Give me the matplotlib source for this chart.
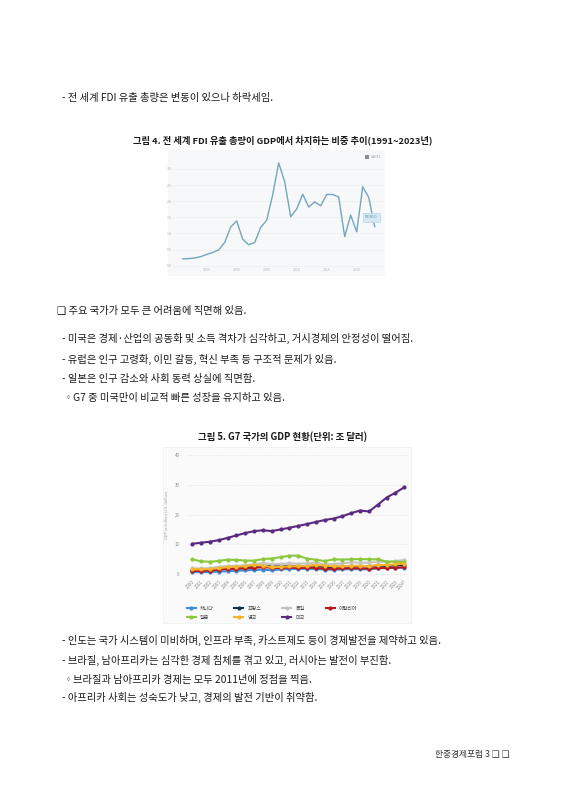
import numpy as np
import matplotlib.pyplot as plt
from matplotlib.patches import Rectangle

plt.rcParams['font.family'] = ['Noto Sans CJK KR', 'DejaVu Sans']

W, H = 566, 800

# figure 4: world FDI outflow share of GDP (%)
fdi_years = list(range(1991, 2024))
fdi_share = [0.21, 0.22, 0.24, 0.28, 0.35, 0.41, 0.49, 0.72, 1.20, 1.39,
             0.82, 0.65, 0.72, 1.19, 1.41, 2.20, 3.19, 2.60, 1.52, 1.76,
             2.22, 1.82, 1.98, 1.86, 2.21, 2.21, 2.13, 0.90, 1.57, 1.05,
             2.45, 2.12, 1.21]
fdi_yticks = [0.0, 0.5, 1.0, 1.5, 2.0, 2.5, 3.0]
fdi_xticks = [1995, 2000, 2005, 2010, 2015, 2020]

# figure 5: G7 GDP (trillion USD)
gdp_years = list(range(2000, 2025))
gdp_labels = [str(y) for y in gdp_years[:-1]] + ['2024*']
gdp = {
    '캐나다': [0.74, 0.74, 0.76, 0.90, 1.03, 1.17, 1.32, 1.47, 1.55, 1.37,
             1.62, 1.79, 1.83, 1.85, 1.81, 1.56, 1.53, 1.65, 1.73, 1.74,
             1.65, 2.00, 2.16, 2.14, 2.24],
    '프랑스': [1.36, 1.38, 1.49, 1.84, 2.12, 2.20, 2.32, 2.66, 2.92, 2.69,
             2.64, 2.86, 2.68, 2.81, 2.86, 2.44, 2.47, 2.59, 2.79, 2.73,
             2.65, 2.96, 2.78, 3.03, 3.16],
    '독일': [1.95, 1.95, 2.08, 2.50, 2.81, 2.85, 3.00, 3.43, 3.75, 3.41,
            3.40, 3.74, 3.53, 3.73, 3.89, 3.36, 3.47, 3.69, 3.98, 3.89,
            3.89, 4.28, 4.08, 4.46, 4.71],
    '이탈리아': [1.14, 1.17, 1.27, 1.57, 1.80, 1.86, 1.95, 2.21, 2.41, 2.20,
              2.14, 2.29, 2.09, 2.14, 2.16, 1.84, 1.88, 1.96, 2.09, 2.01,
              1.90, 2.18, 2.07, 2.25, 2.37],
    '일본': [4.97, 4.37, 4.18, 4.52, 4.89, 4.83, 4.60, 4.58, 5.11, 5.29,
            5.76, 6.23, 6.27, 5.21, 4.90, 4.44, 5.00, 4.93, 5.04, 5.12,
            5.04, 5.03, 4.26, 4.21, 4.10],
    '영국': [1.66, 1.64, 1.78, 2.05, 2.42, 2.54, 2.71, 3.09, 2.93, 2.41,
            2.49, 2.66, 2.71, 2.79, 3.07, 2.93, 2.69, 2.68, 2.87, 2.85,
            2.70, 3.14, 3.09, 3.34, 3.59],
    '미국': [10.25, 10.58, 10.94, 11.46, 12.21, 13.04, 13.82, 14.47, 14.77, 14.48,
            15.05, 15.60, 16.25, 16.84, 17.55, 18.21, 18.70, 19.48, 20.53, 21.38,
            21.06, 23.32, 25.74, 27.36, 29.17],
}
gdp_colors = {'캐나다': '#3d8fdb', '프랑스': '#14324a', '독일': '#c4c4c4',
              '이탈리아': '#b3191e', '일본': '#8cc83c', '영국': '#f6b52c',
              '미국': '#5b2a80'}
gdp_yticks = [0, 10, 20, 30, 40]

fig = plt.figure(figsize=(W / 100, H / 100), dpi=100)
fig.patch.set_facecolor('white')


def px_axes(left, top, right, bottom):
    return fig.add_axes([left / W, 1 - bottom / H, (right - left) / W, (bottom - top) / H])


def lims(p0, v0, p1, v1, a, b):
    # value at pixel a and b given two reference pixel/value pairs
    k = (v1 - v0) / (p1 - p0)
    return v0 + (a - p0) * k, v0 + (b - p0) * k


def ftext(x, y, s, **kw):
    kw.setdefault('fontsize', 7.4)
    kw.setdefault('color', '#1a1a1a')
    kw.setdefault('va', 'center')
    fig.text(x / W, 1 - y / H, s, **kw)


def panel(left, top, right, bottom, fc, ec='none'):
    fig.add_artist(Rectangle((left / W, 1 - bottom / H), (right - left) / W, (bottom - top) / H,
                             transform=fig.transFigure, facecolor=fc, edgecolor=ec,
                             lw=0.5, zorder=-10))


ftext(62, 98, '- 전 세계 FDI 유출 총량은 변동이 있으나 하락세임.')
ftext(283, 140, '그림 4. 전 세계 FDI 유출 총량이 GDP에서 차지하는 비중 추이(1991~2023년)',
      ha='center', fontsize=6.7, fontweight='bold')

# chart 1
panel(168, 150, 385, 276, '#f7f8f9')
ax1 = px_axes(173, 155, 383, 267)
ax1.set_facecolor('none')
ax1.plot(fdi_years, fdi_share, color='#73a6bd', lw=1.0)
ax1.set_xlim(*lims(182.7, 1991, 374.7, 2023, 173, 383))
ax1.set_ylim(*lims(265.7, 0.0, 169, 3.0, 267, 155))
ax1.set_yticks(fdi_yticks)
ax1.set_yticklabels([f'{v:.1f}' for v in fdi_yticks])
ax1.set_xticks(fdi_xticks)
ax1.tick_params(length=0, labelsize=2.6, labelcolor='#b0b0b0', pad=1)
ax1.grid(axis='y', ls=':', lw=0.5, color='#dcdcdc')
for s in ax1.spines.values():
    s.set_visible(False)
ax1.text(fdi_years[-1] - 0.6, 1.5, 'WORLD', fontsize=2.6, color='#5f95ad', ha='center', va='center',
         bbox=dict(boxstyle='square,pad=0.6', fc='#d6e9f1', ec='#a9cfdf', lw=0.4))
fig.add_artist(Rectangle((364.5 / W, 1 - 159 / H), 4 / W, 4 / H, transform=fig.transFigure,
                         facecolor='#8c8c8c', edgecolor='none'))
ftext(371, 157, 'LABEL', fontsize=2.6, color='#a0a0a0')

ftext(57, 311, '❑ 주요 국가가 모두 큰 어려움에 직면해 있음.')
ftext(62, 338, '- 미국은 경제·산업의 공동화 및 소득 격차가 심각하고, 거시경제의 안정성이 떨어짐.')
ftext(62, 359, '- 유럽은 인구 고령화, 이민 갈등, 혁신 부족 등 구조적 문제가 있음.')
ftext(62, 379, '- 일본은 인구 감소와 사회 동력 상실에 직면함.')
ftext(66, 398, '◦', family=['DejaVu Sans'], fontsize=6)
ftext(73, 398, 'G7 중 미국만이 비교적 빠른 성장을 유지하고 있음.')

ftext(283, 437, '그림 5. G7 국가의 GDP 현황(단위: 조 달러)', ha='center', fontsize=6.8,
      fontweight='bold')

# chart 2
panel(163, 447, 411, 623, '#fafafa', '#eeeeee')
ax2 = px_axes(188, 452, 408, 577)
ax2.set_facecolor('none')
handles = {}
for name, vals in gdp.items():
    ln, = ax2.plot(gdp_years, vals, color=gdp_colors[name], lw=1.5, marker='o', ms=2.0,
                   label=name)
    handles[name] = ln
ax2.set_xlim(*lims(192.3, 2000, 404.3, 2024, 188, 408))
ax2.set_ylim(*lims(574.3, 0, 455, 40, 577, 452))
ax2.set_yticks(gdp_yticks)
ax2.set_xticks(gdp_years)
ax2.set_xticklabels(gdp_labels, rotation=45, ha='right', rotation_mode='anchor')
ax2.tick_params(length=0, labelsize=3.1, labelcolor='#8a8a8a', pad=1.5)
ax2.tick_params(axis='y', pad=6)
ax2.grid(axis='y', ls=':', lw=0.5, color='#d5d5d5')
for s in ax2.spines.values():
    s.set_visible(False)
ax2.set_ylabel('GDP in trillion U.S. dollars', fontsize=2.9, color='#9a9a9a', labelpad=4)

order = ['캐나다', '일본', '프랑스', '영국', '독일', '미국', '이탈리아']
fig.legend([handles[n] for n in order], order, ncol=4, frameon=False,
           loc='upper left', bbox_to_anchor=(182 / W, 1 - 601 / H),
           fontsize=3.6, handlelength=1.8, handletextpad=0.8, columnspacing=4.2,
           labelspacing=0.9, labelcolor='#444444')

ftext(62, 640, '- 인도는 국가 시스템이 미비하며, 인프라 부족, 카스트제도 등이 경제발전을 제약하고 있음.')
ftext(62, 660, '- 브라질, 남아프리카는 심각한 경제 침체를 겪고 있고, 러시아는 발전이 부진함.')
ftext(66, 680, '◦', family=['DejaVu Sans'], fontsize=6)
ftext(73, 680, '브라질과 남아프리카 경제는 모두 2011년에 정점을 찍음.')
ftext(62, 697, '- 아프리카 사회는 성숙도가 낮고, 경제의 발전 기반이 취약함.')

ftext(510, 754, '한중경제포럼 3 ❑ ❑', ha='right', fontsize=6.3, color='#333333')

fig.savefig('out.png', dpi=100, facecolor='white')
